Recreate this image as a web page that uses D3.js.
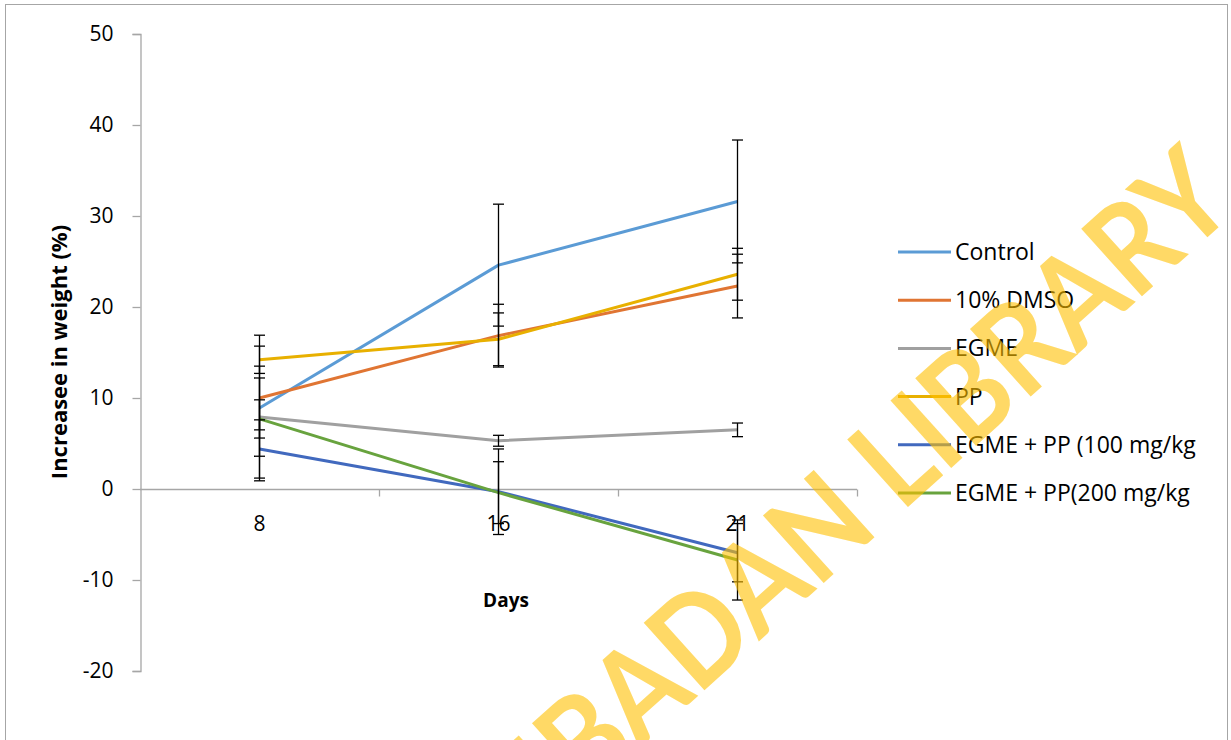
<!DOCTYPE html>
<html>
<head>
<meta charset="utf-8">
<script src="https://cdn.jsdelivr.net/npm/d3@7"></script>
<style>
  html, body { margin: 0; padding: 0; background: #fff; }
  svg { display: block; }
  text { font-family: "Open Sans", Lato, sans-serif; fill: #000; }
</style>
</head>
<body>
<svg id="chart" width="1231" height="740"></svg>
<script>
// Weight gain (%) by day for each treatment group, with SEM error bars
const days = ["8", "16", "21"];
const seriesNames = ["Control", "10% DMSO", "EGME", "PP", "EGME + PP (100 mg/kg", "EGME + PP(200 mg/kg"];
const control   = [8.9, 24.6, 31.6];
const dmso      = [10.0, 16.85, 22.3];
const egme      = [7.9, 5.3, 6.5];
const pp        = [14.2, 16.45, 23.6];
const egmePp100 = [4.4, -0.3, -7.0];
const egmePp200 = [7.7, -0.4, -7.8];
const controlErr   = [8.0, 6.7, 6.75];
const dmsoErr      = [3.5, 3.45, 3.5];
const egmeErr      = [4.3, 0.6, 0.75];
const ppErr        = [1.5, 2.9, 2.85];
const egmePp100Err = [3.2, 4.7, 3.2];
const egmePp200Err = [2.1, 3.4, 4.4];
const yTicks = [-20, -10, 0, 10, 20, 30, 40, 50];
const colors = ["#5B9BD5", "#E07533", "#A0A0A0", "#E8B000", "#4169BE", "#68A33E"];

const seriesValues = [control, dmso, egme, pp, egmePp100, egmePp200];
const seriesErrors = [controlErr, dmsoErr, egmeErr, ppErr, egmePp100Err, egmePp200Err];

const svg = d3.select("#chart");

// chart frame
svg.append("rect")
  .attr("x", 5.5).attr("y", 4.5).attr("width", 1222).attr("height", 760)
  .attr("fill", "none").attr("stroke", "#A6A6A6").attr("stroke-width", 1);

const x = d3.scaleBand().domain(days).range([140, 857]).padding(0);
const y = d3.scaleLinear().domain([-20, 50]).range([671, 34]);
const cx = d => x(d) + x.bandwidth() / 2;

// y axis
const yAxis = svg.append("g").attr("transform", "translate(140.5,0)")
  .call(d3.axisLeft(y).tickValues(yTicks).tickSize(8).tickPadding(19).tickFormat(d => String(d)));
yAxis.select(".domain").attr("stroke", "#A6A6A6").attr("stroke-width", 1.3);
yAxis.selectAll(".tick line").attr("stroke", "#A6A6A6").attr("stroke-width", 1.3);
yAxis.selectAll(".tick text").style("font-size", "21px").attr("fill", "#000");

// x axis along zero, ticks between categories
const xg = svg.append("g").attr("transform", `translate(0,${y(0) + 0.5})`);
xg.append("line").attr("x1", 140).attr("x2", 857).attr("stroke", "#A6A6A6").attr("stroke-width", 1.3);
const boundaries = days.map(d => x(d)).concat([x(days[days.length - 1]) + x.bandwidth()]);
xg.selectAll("line.tk").data(boundaries.slice(1)).join("line")
  .attr("class", "tk")
  .attr("x1", d => d + 0.5).attr("x2", d => d + 0.5).attr("y1", 0).attr("y2", 7)
  .attr("stroke", "#A6A6A6").attr("stroke-width", 1.3);
xg.selectAll("text.lbl").data(days).join("text")
  .attr("class", "lbl")
  .attr("x", d => cx(d)).attr("y", 41)
  .attr("text-anchor", "middle")
  .style("font-size", "21px")
  .text(d => d);

// axis titles
svg.append("text")
  .attr("transform", "translate(67,352) rotate(-90)")
  .attr("text-anchor", "middle")
  .style("font-size", "22px").style("font-weight", "bold")
  .text("Increasee in weight (%)");
svg.append("text")
  .attr("x", 506).attr("y", 607)
  .attr("text-anchor", "middle")
  .style("font-size", "19px").style("font-weight", "bold")
  .text("Days");

// series lines
const line = d3.line().x((v, i) => cx(days[i])).y(v => y(v));
seriesValues.forEach((vals, s) => {
  svg.append("path")
    .datum(vals)
    .attr("d", line)
    .attr("fill", "none")
    .attr("stroke", colors[s])
    .attr("stroke-width", 3)
    .attr("stroke-linejoin", "round");
});

// error bars
const cap = 5.5;
seriesValues.forEach((vals, s) => {
  const g = svg.append("g").attr("stroke", "#000").attr("stroke-width", 1.3);
  vals.forEach((v, i) => {
    const px = cx(days[i]);
    const e = seriesErrors[s][i];
    const hi = y(v + e), lo = y(v - e);
    g.append("line").attr("x1", px).attr("x2", px).attr("y1", hi).attr("y2", lo);
    g.append("line").attr("x1", px - cap).attr("x2", px + cap).attr("y1", hi).attr("y2", hi);
    g.append("line").attr("x1", px - cap).attr("x2", px + cap).attr("y1", lo).attr("y2", lo);
  });
});

// legend
const legend = svg.append("g").attr("transform", "translate(898,252)");
seriesNames.forEach((name, s) => {
  const row = legend.append("g").attr("transform", `translate(0,${s * 48.2})`);
  row.append("line").attr("x1", 0).attr("x2", 53).attr("y1", 0).attr("y2", 0)
    .attr("stroke", colors[s]).attr("stroke-width", 3);
  row.append("text").attr("x", 57).attr("y", 8)
    .style("font-size", "23px")
    .text(name);
});

// library watermark
svg.append("text")
  .attr("transform", "translate(1240,208) rotate(-42) scale(1,1.12)")
  .attr("text-anchor", "end")
  .style("font-family", "Lato, sans-serif")
  .style("font-weight", "bold")
  .style("font-size", "112px")
  .style("fill", "#FFC000")
  .style("fill-opacity", 0.6)
  .text("UNIBADAN LIBRARY");
</script>
</body>
</html>
